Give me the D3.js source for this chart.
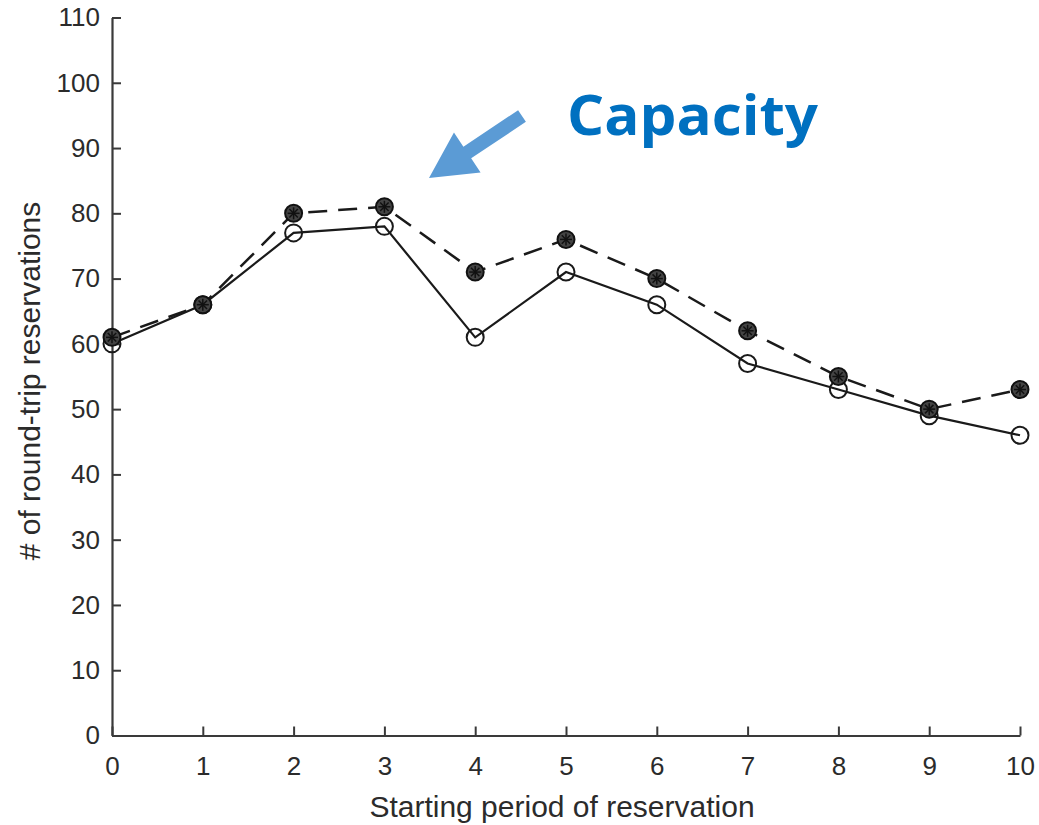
<!DOCTYPE html>
<html>
<head>
<meta charset="utf-8">
<script src="https://cdn.jsdelivr.net/npm/d3@7"></script>
<style>
  html, body { margin: 0; padding: 0; background: #fff; }
  svg { display: block; }
</style>
</head>
<body>
<svg id="chart" width="1039" height="825"></svg>
<script>
// Starting periods and reservation counts
const periods = [0, 1, 2, 3, 4, 5, 6, 7, 8, 9, 10];
const capacityReservations = [61, 66, 80, 81, 71, 76, 70, 62, 55, 50, 53];
const baseReservations     = [60, 66, 77, 78, 61, 71, 66, 57, 53, 49, 46];
const yTicks = [0, 10, 20, 30, 40, 50, 60, 70, 80, 90, 100, 110];
const xTicks = [0, 1, 2, 3, 4, 5, 6, 7, 8, 9, 10];
const xTitle = "Starting period of reservation";
const yTitle = "# of round-trip reservations";
const calloutText = "Capacity";

const svg = d3.select("#chart");
const ink = "#2b2b2b";
const font = "'Liberation Sans', Arial, Helvetica, sans-serif";

const x = d3.scaleLinear().domain([0, 10]).range([112, 1020]);
const y = d3.scaleLinear().domain([0, 110]).range([735.5, 17.5]);

// Axes with inward ticks
const gx = svg.append("g")
  .attr("transform", `translate(0,${y(0)})`)
  .call(d3.axisBottom(x).tickValues(xTicks).tickFormat(d3.format("d"))
    .tickSizeInner(-9).tickSizeOuter(0).tickPadding(21));
const gy = svg.append("g")
  .attr("transform", `translate(${x(0)},0)`)
  .call(d3.axisLeft(y).tickValues(yTicks).tickFormat(d3.format("d"))
    .tickSizeInner(-9).tickSizeOuter(0).tickPadding(12));

[gx, gy].forEach(g => {
  g.select(".domain").attr("stroke", "#3a3a3a").attr("stroke-width", 2.2);
  g.selectAll(".tick line").attr("stroke", "#3a3a3a").attr("stroke-width", 2);
  g.selectAll(".tick text")
    .attr("fill", ink)
    .style("font-family", font)
    .style("font-size", "26px");
});

// Axis titles
svg.append("text")
  .attr("x", 562)
  .attr("y", 817)
  .attr("text-anchor", "middle")
  .attr("fill", ink)
  .style("font-family", font)
  .style("font-size", "30px")
  .text(xTitle);

svg.append("text")
  .attr("transform", `translate(40,381) rotate(-90)`)
  .attr("text-anchor", "middle")
  .attr("fill", ink)
  .style("font-family", font)
  .style("font-size", "30px")
  .text(yTitle);

// Series lines
const line = vals => d3.line()
  .x((d, i) => x(periods[i]))
  .y(d => y(d))(vals);

svg.append("path")
  .attr("d", line(capacityReservations))
  .attr("fill", "none")
  .attr("stroke", "#1a1a1a")
  .attr("stroke-width", 2.5)
  .attr("stroke-dasharray", "19,11");

svg.append("path")
  .attr("d", line(baseReservations))
  .attr("fill", "none")
  .attr("stroke", "#1a1a1a")
  .attr("stroke-width", 2.2);

// Open circle markers
svg.append("g").selectAll("circle")
  .data(baseReservations)
  .join("circle")
  .attr("cx", (d, i) => x(periods[i]))
  .attr("cy", d => y(d))
  .attr("r", 8.5)
  .attr("fill", "none")
  .attr("stroke", "#1a1a1a")
  .attr("stroke-width", 2);

// Circled-asterisk markers (dark)
const star = svg.append("g").selectAll("g")
  .data(capacityReservations)
  .join("g")
  .attr("transform", (d, i) => `translate(${x(periods[i])},${y(d)})`);
star.append("circle")
  .attr("r", 8.5)
  .attr("fill", "#444")
  .attr("stroke", "#111")
  .attr("stroke-width", 2);
star.selectAll("line")
  .data([0, 45, 90, 135])
  .join("line")
  .attr("x1", a => -6 * Math.cos(a * Math.PI / 180))
  .attr("y1", a => -6 * Math.sin(a * Math.PI / 180))
  .attr("x2", a => 6 * Math.cos(a * Math.PI / 180))
  .attr("y2", a => 6 * Math.sin(a * Math.PI / 180))
  .attr("stroke", "#111")
  .attr("stroke-width", 1.5);

// Callout: arrow and label
const tail = [522, 116], tip = [429, 178];
const shaftHalf = 7, headHalf = 24, headLen = 46;
const dx = tip[0] - tail[0], dy = tip[1] - tail[1];
const len = Math.hypot(dx, dy);
const ux = dx / len, uy = dy / len, px = -uy, py = ux;
const base = [tip[0] - ux * headLen, tip[1] - uy * headLen];
const pts = [
  [tail[0] + px * shaftHalf, tail[1] + py * shaftHalf],
  [base[0] + px * shaftHalf, base[1] + py * shaftHalf],
  [base[0] + px * headHalf, base[1] + py * headHalf],
  tip,
  [base[0] - px * headHalf, base[1] - py * headHalf],
  [base[0] - px * shaftHalf, base[1] - py * shaftHalf],
  [tail[0] - px * shaftHalf, tail[1] - py * shaftHalf]
];
svg.append("polygon")
  .attr("points", pts.map(p => p.join(",")).join(" "))
  .attr("fill", "#5b9bd5");

svg.append("text")
  .attr("x", 567)
  .attr("y", 135)
  .attr("fill", "#0070c0")
  .style("font-family", "'Open Sans', 'Noto Sans', sans-serif")
  .style("font-weight", "bold")
  .style("font-size", "55px")
  .attr("textLength", 251)
  .attr("lengthAdjust", "spacingAndGlyphs")
  .text(calloutText);
</script>
</body>
</html>
